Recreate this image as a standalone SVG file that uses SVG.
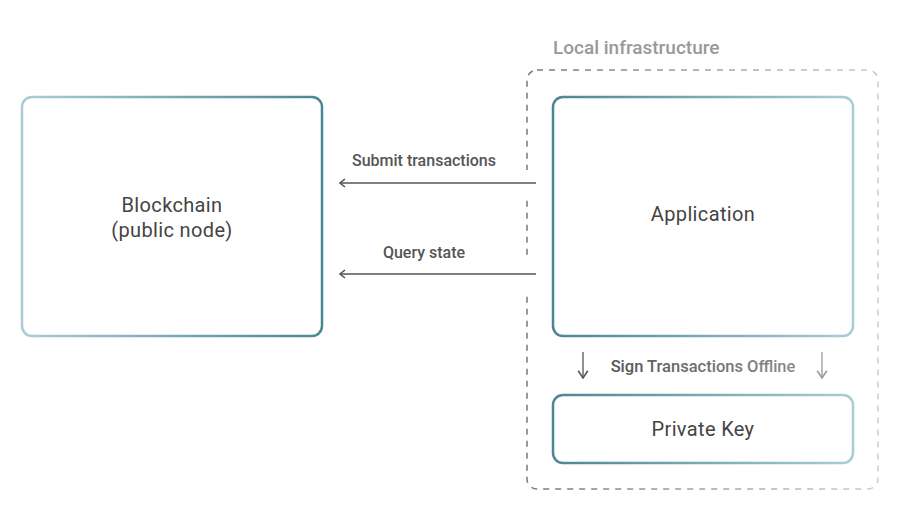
<svg xmlns="http://www.w3.org/2000/svg" width="899" height="525" viewBox="0 0 899 525">
<defs>
<linearGradient id="gLR" x1="0" y1="0" x2="1" y2="0">
<stop offset="0" stop-color="#a9cdd5"/>
<stop offset="1" stop-color="#4b8792"/>
</linearGradient>
<linearGradient id="gRL" x1="0" y1="0" x2="1" y2="0">
<stop offset="0" stop-color="#4b8792"/>
<stop offset="1" stop-color="#a9cdd5"/>
</linearGradient>
<linearGradient id="gDash" x1="0" y1="0" x2="1" y2="0">
<stop offset="0" stop-color="#777"/>
<stop offset="1" stop-color="#ccc"/>
</linearGradient>
<linearGradient id="gText" x1="0" y1="0" x2="1" y2="0">
<stop offset="0" stop-color="#555"/>
<stop offset="1" stop-color="#8a8a8a"/>
</linearGradient>
<marker id="arr" viewBox="0 0 10 10" refX="8.5" refY="5" markerWidth="10" markerHeight="10" markerUnits="userSpaceOnUse" orient="auto">
<path d="M3.5,1 L8.5,5 L3.5,9" fill="none" stroke="#555" stroke-width="1.6"/>
</marker>
<marker id="arrD" viewBox="0 0 10 10" refX="9" refY="5" markerWidth="12" markerHeight="12" markerUnits="userSpaceOnUse" orient="auto">
<path d="M3,1 L9,5 L3,9" fill="none" stroke="context-stroke" stroke-width="1.3"/>
</marker>
</defs>
<style>
.lbl{font-family:Roboto,"Liberation Sans",sans-serif;font-weight:500;font-size:16px;fill:#555;text-anchor:middle}
.node{font-family:Roboto,"Liberation Sans",sans-serif;font-size:20px;letter-spacing:0.35px;fill:#444;text-anchor:middle}
.box{fill:#fff;stroke-width:2.5}
</style>
<rect width="899" height="525" fill="#fff"/>
<g id="local-infrastructure">
<rect x="527" y="70" width="351" height="419" rx="10" fill="none" stroke="url(#gDash)" stroke-width="1.5" stroke-dasharray="6 6"/>
<rect x="520" y="170" width="15" height="28" fill="#fff"/>
<rect x="520" y="260" width="15" height="33" fill="#fff"/>
<text x="553" y="54" font-family="Roboto,'Liberation Sans',sans-serif" font-weight="500" font-size="19" fill="#999">Local infrastructure</text>
</g>
<g id="blockchain">
<rect class="box" x="22" y="97" width="300" height="239" rx="10" stroke="url(#gLR)"/>
<text class="node" x="172" y="212">Blockchain</text>
<text class="node" x="172" y="237">(public node)</text>
</g>
<g id="application">
<rect class="box" x="553" y="97" width="300" height="239" rx="10" stroke="url(#gRL)"/>
<text class="node" x="703" y="221">Application</text>
</g>
<g id="private-key">
<rect class="box" x="553" y="395" width="300" height="68" rx="10" stroke="url(#gRL)"/>
<text class="node" x="703" y="436">Private Key</text>
</g>
<g id="connectors">
<line x1="536" y1="183" x2="340" y2="183" stroke="#555" stroke-width="1.6" marker-end="url(#arr)"/>
<text class="lbl" x="424" y="166">Submit transactions</text>
<line x1="536" y1="274" x2="340" y2="274" stroke="#555" stroke-width="1.6" marker-end="url(#arr)"/>
<text class="lbl" x="424" y="258">Query state</text>
<line x1="583" y1="352" x2="583" y2="378" stroke="#555" stroke-width="1.3" marker-end="url(#arrD)"/>
<line x1="822" y1="352" x2="822" y2="378" stroke="#999" stroke-width="1.3" marker-end="url(#arrD)"/>
<text x="703" y="372" font-family="Roboto,'Liberation Sans',sans-serif" font-weight="500" font-size="16.5" fill="url(#gText)" text-anchor="middle">Sign Transactions Offline</text>
</g>
</svg>
